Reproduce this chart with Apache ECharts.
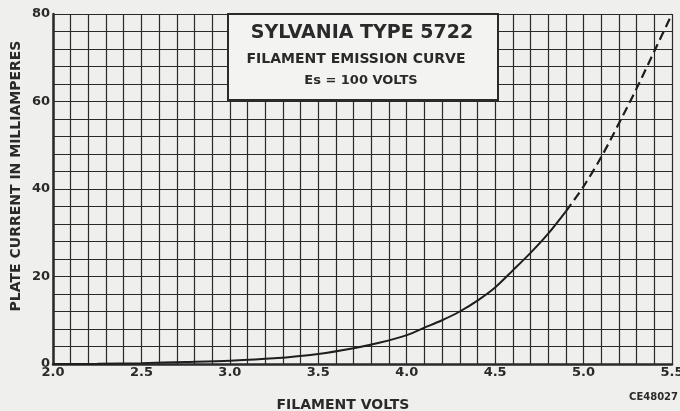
<!DOCTYPE html>
<html><head><meta charset="utf-8">
<script src="https://cdn.jsdelivr.net/npm/echarts@6/dist/echarts.min.js"></script>
<style>html,body{margin:0;padding:0;background:#efefed}#c{width:680px;height:411px}</style>
</head><body><div id="c"></div>
<script>
// Filament volts (x) and plate current in mA (y)
const solidVolts   = [2.0, 2.25, 2.5, 2.75, 3.0, 3.25, 3.5, 3.7, 3.85, 4.0, 4.1, 4.2, 4.3, 4.4, 4.5, 4.6, 4.7, 4.8, 4.9];
const solidCurrent = [0, 0.05, 0.2, 0.45, 0.75, 1.3, 2.3, 3.6, 4.9, 6.6, 8.3, 10.0, 12.0, 14.5, 17.5, 21.4, 25.4, 29.8, 34.9];
const dashVolts    = [4.9, 5.0, 5.1, 5.2, 5.3, 5.4, 5.5];
const dashCurrent  = [34.9, 40.6, 47.3, 55.0, 63.0, 71.5, 80.0];
const xTicks = ['2.0','2.5','3.0','3.5','4.0','4.5','5.0','5.5'];
const yTicks = ['0','20','40','60','80'];
const titleLines = ['SYLVANIA TYPE 5722', 'FILAMENT EMISSION CURVE', 'Es = 100 VOLTS'];
const xName = 'FILAMENT VOLTS';
const yName = 'PLATE CURRENT IN MILLIAMPERES';
const code = 'CE48027';

const FONT = 'DejaVu Sans';
const INK = '#2a2a2a';
const chart = echarts.init(document.getElementById('c'));
const gridLine = {lineStyle:{color:INK, width:1.2, type:'solid'}};
chart.setOption({
  backgroundColor:'#efefed',
  animation:false,
  grid:{left:53, right:8, top:14, bottom:47, containLabel:false, outerBoundsMode:'none'},
  xAxis:{
    type:'value', min:2.0, max:5.5, interval:0.5,
    axisLine:{show:true, lineStyle:{color:INK, width:2.5}},
    axisTick:{show:false},
    axisLabel:{color:INK, fontFamily:FONT, fontWeight:'bold', fontSize:13, margin:2,
      formatter:v=>{const s=v.toFixed(1);return xTicks.includes(s)?s:'';}},
    splitLine:gridLine,
    minorTick:{show:false, splitNumber:5},
    minorSplitLine:{show:true, lineStyle:{color:INK, width:1.2}}
  },
  yAxis:{
    type:'value', min:0, max:80, interval:20,
    axisLine:{show:true, lineStyle:{color:INK, width:2.5}},
    axisTick:{show:false},
    axisLabel:{color:INK, fontFamily:FONT, fontWeight:'bold', fontSize:13, margin:3,
      formatter:v=>{const s=String(Math.round(v));return yTicks.includes(s)?s:'';}},
    splitLine:gridLine,
    minorTick:{show:false, splitNumber:5},
    minorSplitLine:{show:true, lineStyle:{color:INK, width:1.2}}
  },
  series:[
    {type:'line', data:solidVolts.map((v,i)=>[v,solidCurrent[i]]), smooth:0.3,
     symbol:'none', lineStyle:{color:'#1e1e1e', width:2}, z:5},
    {type:'line', data:dashVolts.map((v,i)=>[v,dashCurrent[i]]), smooth:0.3,
     symbol:'none', lineStyle:{color:'#1e1e1e', width:2.2, type:[9,5]}, z:5}
  ],
  graphic:[
    {type:'rect', z:100, shape:{x:228, y:14, width:270, height:86},
     style:{fill:'#f3f3f1', stroke:INK, lineWidth:2}},
    {type:'text', z:101, x:362, y:33, style:{text:titleLines[0], fill:INK, font:'bold 19px "'+FONT+'"', textAlign:'center', textVerticalAlign:'middle'}},
    {type:'text', z:101, x:356, y:59, style:{text:titleLines[1], fill:INK, font:'bold 14px "'+FONT+'"', textAlign:'center', textVerticalAlign:'middle'}},
    {type:'text', z:101, x:361, y:81, style:{text:titleLines[2], fill:INK, font:'bold 13px "'+FONT+'"', textAlign:'center', textVerticalAlign:'middle'}},
    {type:'text', z:101, x:343, y:405, style:{text:xName, fill:INK, font:'bold 14px "'+FONT+'"', textAlign:'center', textVerticalAlign:'middle'}},
    {type:'text', z:101, x:16, y:176, rotation:Math.PI/2, style:{text:yName, fill:INK, font:'bold 14px "'+FONT+'"', textAlign:'center', textVerticalAlign:'middle'}},
    {type:'text', z:101, x:678, y:397, style:{text:code, fill:INK, font:'bold 10px "'+FONT+'"', textAlign:'right', textVerticalAlign:'middle'}}
  ]
});
</script></body></html>
